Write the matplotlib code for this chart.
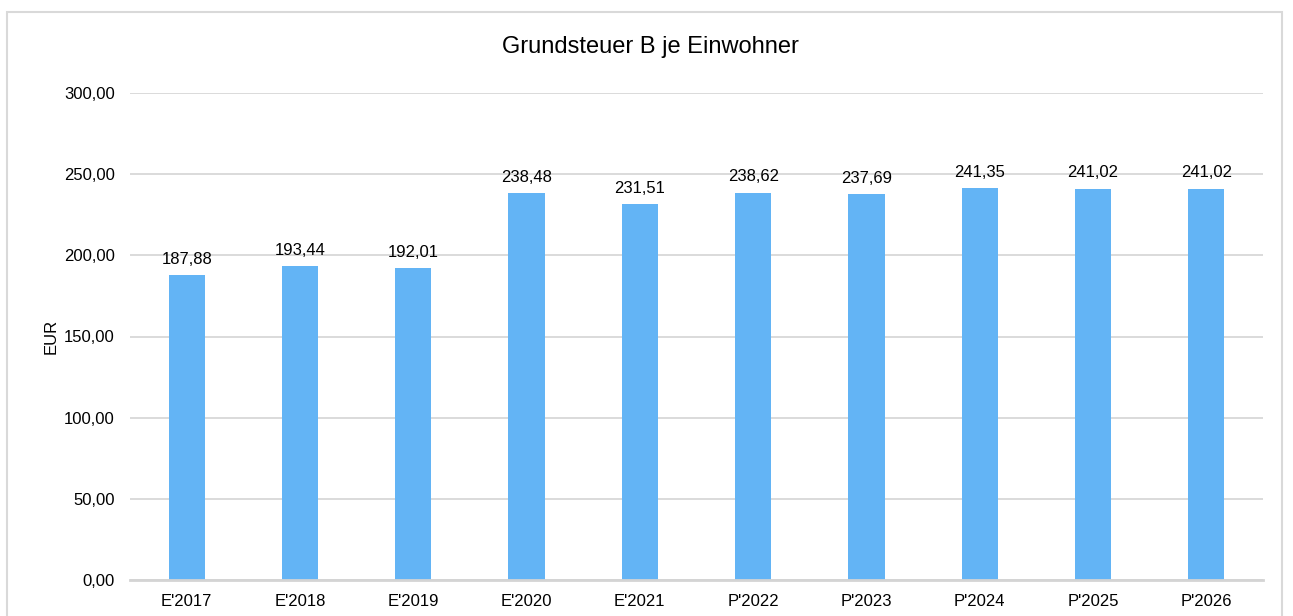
import matplotlib
matplotlib.use("Agg")
import matplotlib.pyplot as plt
from matplotlib.patches import Rectangle
from matplotlib.ticker import FuncFormatter

plt.rcParams['font.family'] = ['Liberation Sans', 'DejaVu Sans']

categories = ["E'2017", "E'2018", "E'2019", "E'2020", "E'2021",
              "P'2022", "P'2023", "P'2024", "P'2025", "P'2026"]
values = [187.88, 193.44, 192.01, 238.48, 231.51,
          238.62, 237.69, 241.35, 241.02, 241.02]


def de_fmt(v, pos=None):
    return f"{v:,.2f}".replace(",", "X").replace(".", ",").replace("X", ".")


W, H = 1293, 616
fig = plt.figure(figsize=(W / 100, H / 100), dpi=100)

# outer chart frame (bottom edge is cut off in the reference)
fig.patches.append(Rectangle((7 / W, -0.05), (1282 - 7) / W, 1.05 - 12 / H,
                             transform=fig.transFigure, fill=False,
                             edgecolor='#d9d9d9', linewidth=1.5))

ax = fig.add_axes([130 / W, 1 - 580 / H, (1263 - 130) / W, (580 - 93) / H])
x = range(len(categories))
bars = ax.bar(x, values, width=0.32, color='#63b4f5', zorder=3)
ax.set_xlim(-0.5, len(categories) - 0.5)
ax.set_ylim(0, 300)
ax.set_yticks(range(0, 301, 50))
ax.yaxis.set_major_formatter(FuncFormatter(de_fmt))
ax.set_xticks(list(x))
ax.set_xticklabels(categories)
ax.grid(axis='y', color='#d4d4d4', linewidth=1.2, zorder=0)
for s in ['top', 'right', 'left']:
    ax.spines[s].set_visible(False)
ax.spines['bottom'].set_color('#d4d4d4')
ax.spines['bottom'].set_linewidth(2)
ax.spines['bottom'].set_zorder(4)
ax.tick_params(axis='both', length=0, labelsize=12, colors='black')
ax.tick_params(axis='y', pad=11)
ax.tick_params(axis='x', pad=10)

for b, v in zip(bars, values):
    ax.annotate(de_fmt(v), (b.get_x() + b.get_width() / 2, v),
                xytext=(0, 6), textcoords='offset points',
                ha='center', va='bottom', fontsize=12)

ax.set_ylabel('EUR', fontsize=12, labelpad=4)
fig.text(650 / W, 1 - 47 / H, 'Grundsteuer B je Einwohner', ha='center',
         va='center', fontsize=17)

fig.savefig('out.png', dpi=100)
